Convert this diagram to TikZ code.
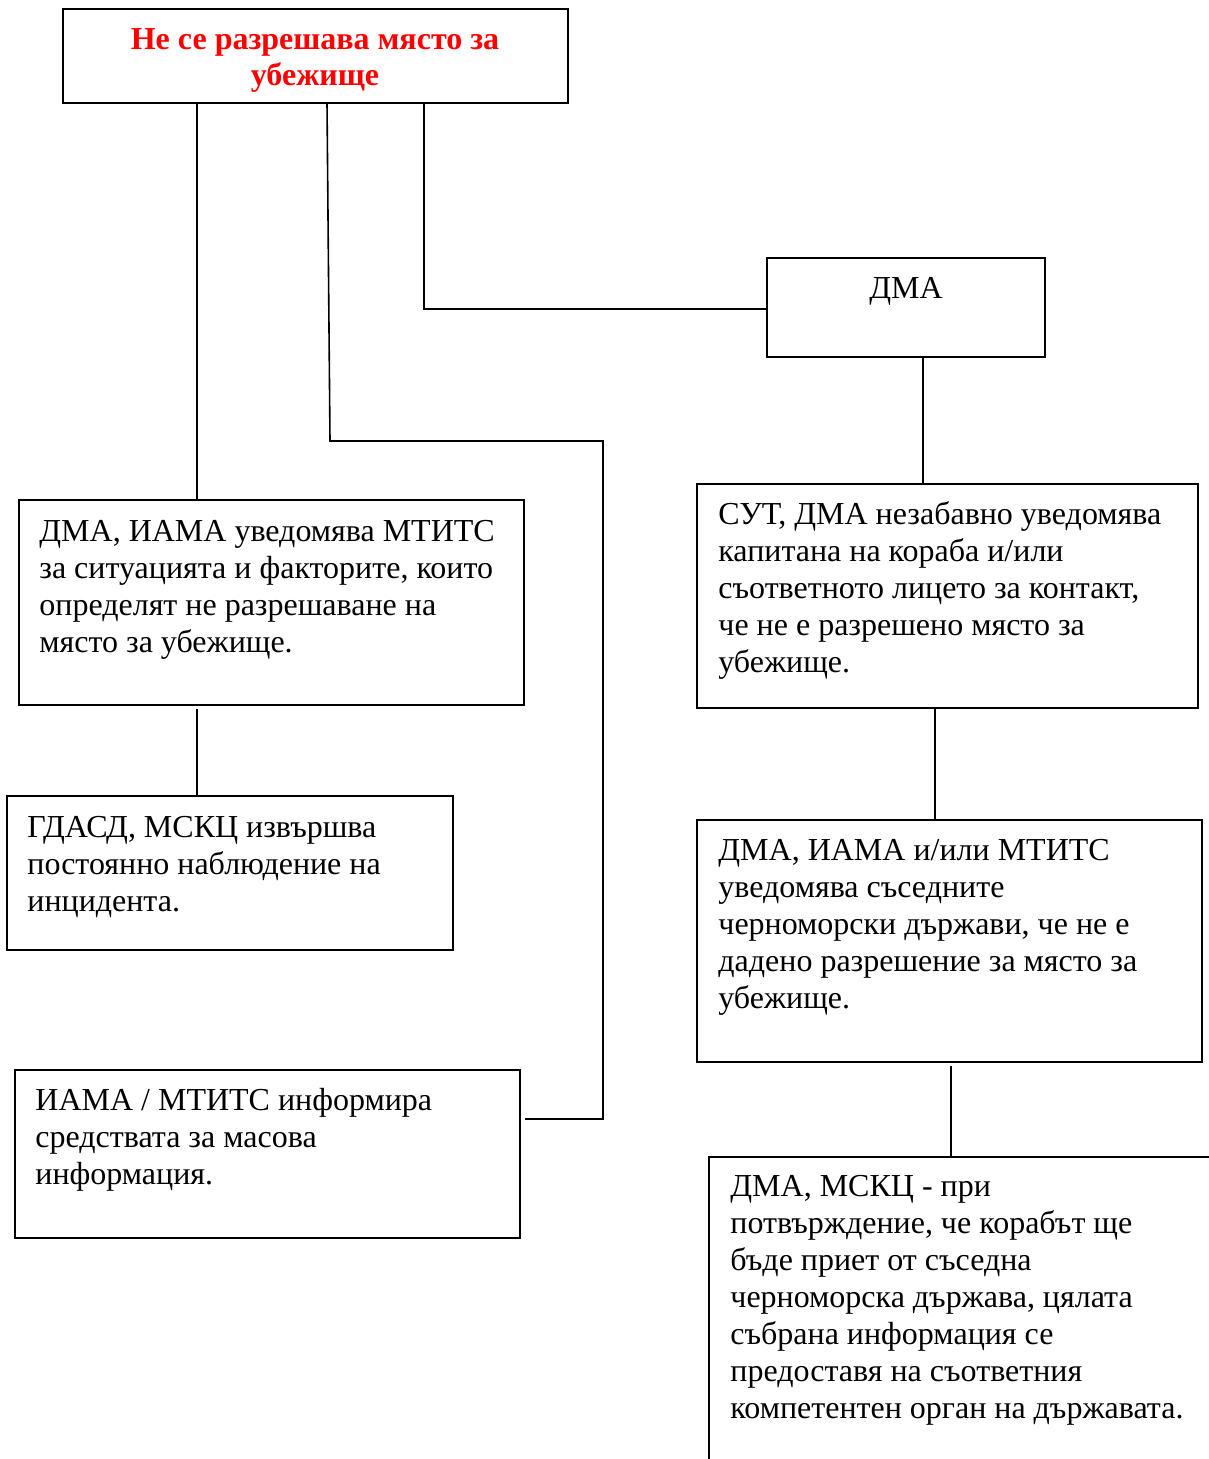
\documentclass[tikz,border=0pt]{standalone}
\usepackage{fontspec}
\setmainfont{Liberation Serif}
\begin{document}
\begin{tikzpicture}[x=0.5pt,y=-0.5pt,
  box/.style={draw,line width=1.2pt,anchor=north west,inner sep=0,outer sep=0},
  txt/.style={anchor=base west,align=left,inner sep=0,font=\fontsize{16pt}{18.5pt}\selectfont},
  conn/.style={line width=0.8pt}]
\useasboundingbox (0,0) rectangle (1208,1459);
% boxes
\node[box,minimum width=252.5pt,minimum height=47pt] (top) at (63,9) {};
\node[box,minimum width=139pt,minimum height=49.5pt] (dma) at (767,258) {};
\node[box,minimum width=252.5pt,minimum height=102.5pt] (b1) at (19,500) {};
\node[box,minimum width=223pt,minimum height=77pt] (b2) at (7,796) {};
\node[box,minimum width=252.5pt,minimum height=84pt] (b3) at (15,1070) {};
\node[box,minimum width=250.5pt,minimum height=112pt] (r1) at (697,484) {};
\node[box,minimum width=252.5pt,minimum height=121pt] (r2) at (697,820) {};
\node[box,minimum width=270pt,minimum height=170pt] (r3) at (709,1157) {};
% texts (base anchor = baseline of last line)
\node[anchor=base,align=center,inner sep=0,text=red,font=\bfseries\fontsize{16pt}{18pt}\selectfont] (ttop) at (315,86) {Не се разрешава място за\\убежище};
\node[anchor=base,inner sep=0,font=\fontsize{16pt}{18.5pt}\selectfont] (tdma) at (906,299) {ДМА};
\node[txt] (tb1) at (39,652) {ДМА, ИАМА уведомява МТИТС\\за ситуацията и факторите, които\\определят не разрешаване на\\място за убежище.};
\node[txt] (tb2) at (27,911) {ГДАСД, МСКЦ извършва\\постоянно наблюдение на\\инцидента.};
\node[txt] (tb3) at (35,1184) {ИАМА / МТИТС информира\\средствата за масова\\информация.};
\node[txt] (tr1) at (718,672) {СУТ, ДМА незабавно уведомява\\капитана на кораба и/или\\съответното лицето за контакт,\\че не е разрешено място за\\убежище.};
\node[txt] (tr2) at (718,1008) {ДМА, ИАМА и/или МТИТС\\уведомява съседните\\черноморски държави, че не е\\дадено разрешение за място за\\убежище.};
\node[txt] (tr3) at (730,1418) {ДМА, МСКЦ - при\\потвърждение, че корабът ще\\бъде приет от съседна\\черноморска държава, цялата\\събрана информация се\\предоставя на съответния\\компетентен орган на държавата.};
% bend coordinates
\coordinate (k1) at (197,0);
\coordinate (k2) at (327,103);
\coordinate (k3) at (330,441);
\coordinate (k4) at (603,441);
\coordinate (k5) at (603,1119);
\coordinate (k6) at (525,1119);
\coordinate (k7) at (424,309);
\coordinate (k8) at (923,0);
\coordinate (k9) at (935,0);
\coordinate (k10) at (951,1066);
% connectors
\draw[conn] (top.south -| k1) -- (b1.north -| k1);
\draw[conn] (b1.south -| k1) ++(0,4) -- (b2.north -| k1);
\draw[conn] (top.south -| k2) -- (k3) -- (k4) -- (k5) -- (k6);
\draw[conn] (top.south -| k7) -- (k7) -- (dma.west |- k7);
\draw[conn] (dma.south -| k8) -- (r1.north -| k8);
\draw[line width=1.3pt] (r1.south -| k9) -- (r2.north -| k9);
\draw[conn] (k10) -- (r3.north -| k10);
\end{tikzpicture}
\end{document}
